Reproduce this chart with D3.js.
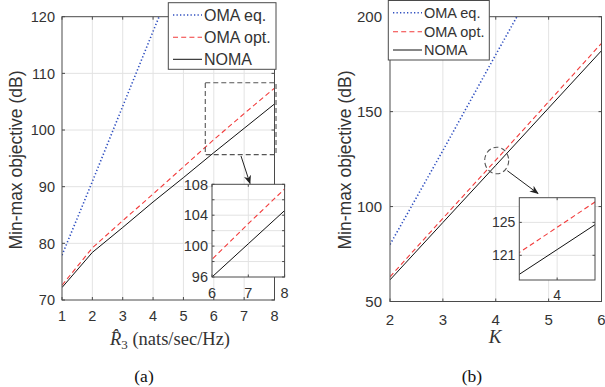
<!DOCTYPE html>
<html><head><meta charset="utf-8">
<script src="https://cdn.jsdelivr.net/npm/d3@7"></script>
<style>body{margin:0;background:#fff}svg{display:block}</style>
</head><body>
<svg id="c" width="605" height="387"></svg>
<script>
// ---- data (a) ----
const R3 = [1, 2, 3, 4, 5, 6, 7, 8];
const omaEqA  = [77.9, 90.9, 104.2, 117.4, 130.5];
const omaOptA = [72.6, 79.2, 84.0, 88.7, 93.5, 98.3, 102.9, 107.4];
const nomaA   = [72.2, 78.4, 82.8, 87.3, 91.6, 96.0, 100.3, 104.6];
const xTicksA = [1, 2, 3, 4, 5, 6, 7, 8];
const yTicksA = [70, 80, 90, 100, 110, 120];
const insetXTicksA = [6, 7, 8];
const insetYTicksA = [96, 98, 100, 102, 104, 106, 108];
const insetYLabelsA = [96, 100, 104, 108];
// ---- data (b) ----
const K = [2, 3, 4, 5, 6];
const omaEqB  = [80, 129.5, 180, 230];
const omaOptB = [63.0, 93.8, 124.4, 155.2, 186.0];
const nomaB   = [61.4, 91.6, 121.7, 151.9, 182.1];
const xTicksB = [2, 3, 4, 5, 6];
const yTicksB = [50, 100, 150, 200];
const insetXTicksB = [4];
const insetYTicksB = [121, 125];
const legendNames = ["OMA eq.", "OMA opt.", "NOMA"];

const BLUE = "#2f4fc0", RED = "#f23b3b", BLACK = "#111";
const AX = "#4a4a4a", GRID = "#e3e3e3", TXT = "#333";
const styles = [
  {color: BLUE, dash: "1.3,2.2", w: 1.6},
  {color: RED, dash: "5,3.2", w: 1.1},
  {color: BLACK, dash: null, w: 1.0}
];
const svg = d3.select("#c");
let clipId = 0;

function panel(o) {
  const x = d3.scaleLinear(o.xd, o.xr), y = d3.scaleLinear(o.yd, o.yr);
  const g = svg.append("g");
  const id = "clip" + (clipId++);
  svg.append("clipPath").attr("id", id).append("rect")
    .attr("x", o.xr[0]).attr("y", o.yr[1]).attr("width", o.xr[1] - o.xr[0]).attr("height", o.yr[0] - o.yr[1]);
  if (o.bg) g.append("rect").attr("x", o.xr[0]).attr("y", o.yr[1]).attr("width", o.xr[1]-o.xr[0]).attr("height", o.yr[0]-o.yr[1]).attr("fill", "#fff");
  o.xt.forEach(t => { if (t > o.xd[0] && t < o.xd[1]) g.append("line").attr("x1", x(t)).attr("x2", x(t)).attr("y1", o.yr[0]).attr("y2", o.yr[1]).attr("stroke", GRID).attr("stroke-width", 1); });
  o.yt.forEach(t => { if (t > o.yd[0] && t < o.yd[1]) g.append("line").attr("y1", y(t)).attr("y2", y(t)).attr("x1", o.xr[0]).attr("x2", o.xr[1]).attr("stroke", GRID).attr("stroke-width", 1); });
  const cg = g.append("g").attr("clip-path", `url(#${id})`);
  o.series.forEach(s => {
    const st = styles[s.style];
    const pts = s.v.map((v, j) => [o.xs[j], v]);
    cg.append("path").attr("d", d3.line().x(d => x(d[0])).y(d => y(d[1]))(pts))
      .attr("fill", "none").attr("stroke", st.color).attr("stroke-width", st.w)
      .attr("stroke-dasharray", st.dash);
  });
  g.append("rect").attr("x", o.xr[0]).attr("y", o.yr[1]).attr("width", o.xr[1]-o.xr[0]).attr("height", o.yr[0]-o.yr[1])
    .attr("fill", "none").attr("stroke", AX).attr("stroke-width", 1);
  const tl = o.tl || 3;
  o.xt.forEach(t => {
    g.append("line").attr("x1", x(t)).attr("x2", x(t)).attr("y1", o.yr[0]).attr("y2", o.yr[0]-tl).attr("stroke", AX);
    g.append("line").attr("x1", x(t)).attr("x2", x(t)).attr("y1", o.yr[1]).attr("y2", o.yr[1]+tl).attr("stroke", AX);
  });
  o.yt.forEach(t => {
    g.append("line").attr("y1", y(t)).attr("y2", y(t)).attr("x1", o.xr[0]).attr("x2", o.xr[0]+tl).attr("stroke", AX);
    g.append("line").attr("y1", y(t)).attr("y2", y(t)).attr("x1", o.xr[1]).attr("x2", o.xr[1]-tl).attr("stroke", AX);
  });
  (o.xl || o.xt).forEach(t => g.append("text").attr("x", x(t)).attr("y", o.yr[0] + o.xlOff)
    .attr("text-anchor", "middle").attr("font-family", "Liberation Sans, Arial, sans-serif")
    .attr("font-size", o.fs).attr("fill", TXT).text(t));
  (o.yl || o.yt).forEach(t => g.append("text").attr("x", o.xr[0] - o.ylOff).attr("y", y(t)).attr("dy", "0.36em")
    .attr("text-anchor", "end").attr("font-family", "Liberation Sans, Arial, sans-serif")
    .attr("font-size", o.fs).attr("fill", TXT).text(t));
  return {x, y, g};
}

function legend(bx, by, bw, bh, rows, lx1, lx2, tx, fs) {
  const g = svg.append("g");
  g.append("rect").attr("x", bx).attr("y", by).attr("width", bw).attr("height", bh)
    .attr("fill", "#fff").attr("stroke", AX).attr("stroke-width", 1);
  legendNames.forEach((n, i) => {
    const st = styles[i];
    g.append("line").attr("x1", lx1).attr("x2", lx2).attr("y1", rows[i]).attr("y2", rows[i])
      .attr("stroke", st.color).attr("stroke-width", st.w).attr("stroke-dasharray", st.dash);
    g.append("text").attr("x", tx).attr("y", rows[i]).attr("dy", "0.36em")
      .attr("font-family", "Liberation Sans, Arial, sans-serif").attr("font-size", fs).attr("fill", TXT).text(n);
  });
}

svg.append("defs").append("marker").attr("id", "arr").attr("viewBox", "0 0 10 10")
  .attr("refX", 9).attr("refY", 5).attr("markerWidth", 9).attr("markerHeight", 9).attr("orient", "auto")
  .attr("markerUnits", "userSpaceOnUse")
  .append("path").attr("d", "M0,1 L10,5 L0,9 L3,5 Z").attr("fill", "#222");

// ---------- panel (a) ----------
const A = panel({xd: [1, 8], xr: [62, 274.5], yd: [70, 120], yr: [300, 16.7],
  xs: R3, xt: xTicksA, yt: yTicksA, fs: 14.5, xlOff: 21, ylOff: 7,
  series: [{v: omaEqA, style: 0}, {v: omaOptA, style: 1}, {v: nomaA, style: 2}]});
svg.append("rect").attr("x", A.x(5.72)).attr("y", A.y(108.35)).attr("width", A.x(8.05) - A.x(5.72))
  .attr("height", A.y(95.65) - A.y(108.35)).attr("fill", "none").attr("stroke", "#555")
  .attr("stroke-width", 1.1).attr("stroke-dasharray", "5,3");
svg.append("line").attr("x1", 241).attr("y1", 156).attr("x2", 250).attr("y2", 183.5)
  .attr("stroke", "#222").attr("stroke-width", 1).attr("marker-end", "url(#arr)");
panel({xd: [6, 8], xr: [212, 284.6], yd: [96, 108], yr: [277, 184.3], bg: true,
  xs: R3, xt: insetXTicksA, yt: insetYTicksA, yl: insetYLabelsA, fs: 14.5, xlOff: 21, ylOff: 4, tl: 2.5,
  series: [{v: omaOptA, style: 1}, {v: nomaA, style: 2}]});
legend(168.3, 2.7, 107.7, 66.6, [15, 37.3, 59.3], 173, 202, 204, 16);

// ---------- panel (b) ----------
const B = panel({xd: [2, 6], xr: [390, 601.5], yd: [50, 200], yr: [301.5, 16.7],
  xs: K, xt: xTicksB, yt: yTicksB, fs: 15, xlOff: 23, ylOff: 8,
  series: [{v: omaEqB, style: 0}, {v: omaOptB, style: 1}, {v: nomaB, style: 2}]});
svg.append("ellipse").attr("cx", 496.7).attr("cy", 160.5).attr("rx", 12).attr("ry", 13.3)
  .attr("fill", "none").attr("stroke", "#555").attr("stroke-width", 1.1).attr("stroke-dasharray", "5,3");
svg.append("line").attr("x1", 507.3).attr("y1", 170.7).attr("x2", 538).attr("y2", 193.5)
  .attr("stroke", "#222").attr("stroke-width", 1).attr("marker-end", "url(#arr)");
panel({xd: [3.9, 4.1], xr: [519.3, 595], yd: [118, 128], yr: [280, 197.7], bg: true,
  xs: K, xt: insetXTicksB, yt: insetYTicksB, fs: 14, xlOff: 20, ylOff: 4, tl: 2.5,
  series: [{v: omaOptB, style: 1}, {v: nomaB, style: 2}]});
legend(388.3, 0.5, 101, 59.5, [12.7, 31.7, 50], 393, 422, 424, 14.5);

// ---------- axis titles ----------
[[16, 160], [345, 160]].forEach(p => svg.append("text")
  .attr("transform", `translate(${p[0]},${p[1]}) rotate(-90)`).attr("dy", "0.36em")
  .attr("text-anchor", "middle").attr("font-family", "Liberation Sans, Arial, sans-serif")
  .attr("font-size", 17.5).attr("fill", TXT).text("Min-max objective (dB)"));

const xl = svg.append("text").attr("x", 170).attr("y", 345).attr("text-anchor", "middle")
  .attr("font-family", "Liberation Serif, Times New Roman, serif").attr("font-size", 18.5).attr("fill", TXT);
xl.append("tspan").attr("font-style", "italic").text("R\u0302");
xl.append("tspan").attr("font-size", 13).attr("dy", 4).text("3");
xl.append("tspan").attr("dy", -4).text(" (nats/sec/Hz)");

svg.append("text").attr("x", 495).attr("y", 343).attr("text-anchor", "middle")
  .attr("font-family", "Liberation Serif, Times New Roman, serif").attr("font-style", "italic")
  .attr("font-size", 19).attr("fill", TXT).text("K");

svg.append("text").attr("x", 144).attr("y", 382).attr("text-anchor", "middle")
  .attr("font-family", "Liberation Serif, Times New Roman, serif").attr("font-size", 17.5).attr("fill", "#111").text("(a)");
svg.append("text").attr("x", 472).attr("y", 382).attr("text-anchor", "middle")
  .attr("font-family", "Liberation Serif, Times New Roman, serif").attr("font-size", 17.5).attr("fill", "#111").text("(b)");
</script>
</body></html>
